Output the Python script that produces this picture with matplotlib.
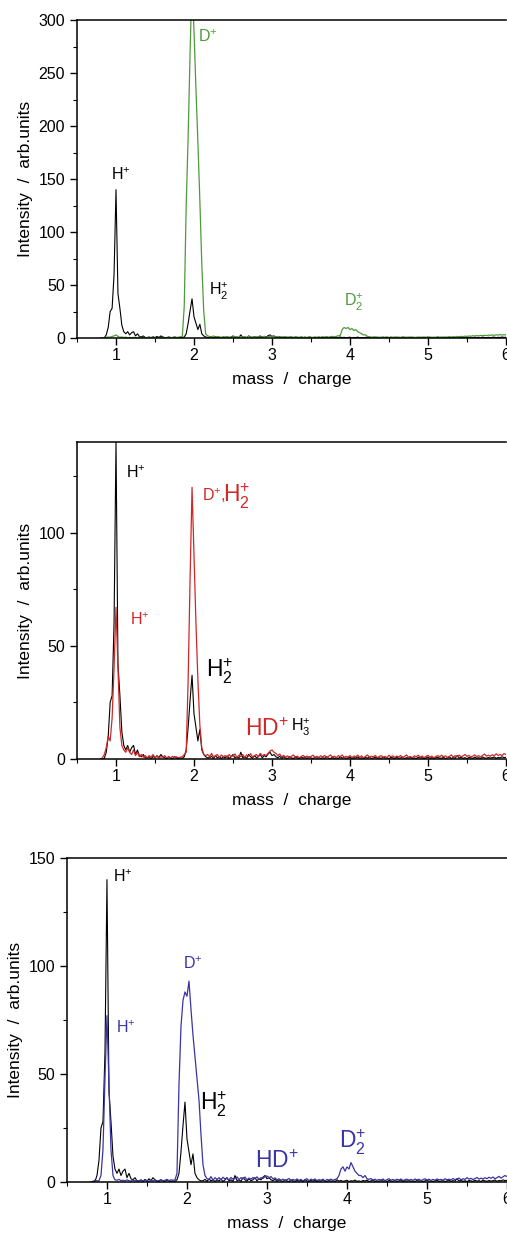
import numpy as np
import matplotlib
matplotlib.use('Agg')
import matplotlib.pyplot as plt
from matplotlib.ticker import MultipleLocator

plt.rcParams['font.family'] = ['Liberation Sans', 'DejaVu Sans']
plt.rcParams['mathtext.fontset'] = 'custom'
plt.rcParams['mathtext.rm'] = 'Liberation Sans'
plt.rcParams['mathtext.it'] = 'Liberation Sans:italic'
plt.rcParams['mathtext.bf'] = 'Liberation Sans:bold'

# %% DATA  (mass/charge sampled every 0.025 from 0.8 to 6.0, rows of 8 = 0.2 units)
mz = np.linspace(0.8, 6.0, 209)

# H2 plasma (black, same trace in every panel)
h2_black = [
    0, 0, 0.3, 3, 10, 25, 28, 60,
    140, 42, 28, 12, 6, 4, 6, 3,
    5, 6, 2, 4, 1.5, 1, 2, 0.5,
    0.5, 1, 0, 1.2, 0.4, 1.5, 0.6, 2,
    1, 0.5, 0.2, 1, 0.5, 0.1, 1, 0.5,
    0.2, 0.5, 0.3, 1, 4, 14, 26, 37,
    20, 14, 8, 13, 4, 2, 1, 0.5,
    0.6, 1.2, 0.2, 1.5, 0.5, 1, 0.2, 1,
    0.5, 1.4, 0.2, 1, 2, 0.5, 1, 0.3,
    3, 0.6, 1, 0.3, 2, 1, 0.4, 1.5,
    0.6, 1, 2, 0.5, 1.5, 1, 2.2, 3,
    1.5, 2, 1, 0.6, 1.2, 0.3, 1, 0.5,
    0.2, 1, 0.5, 0.2, 1, 0.5, 0.1, 0.9,
    0.4, 0.8, 0.2, 1, 0.5, 0.2, 0.7, 0.4,
    0.8, 0.2, 0.6, 0.3, 1, 0.4, 0.2, 0.8,
    0.3, 0.6, 0.2, 1, 0.4, 0.7, 0.3, 0.5,
    0.8, 0.2, 0.6, 0.4, 0.9, 0.3, 0.5, 0.2,
    0.7, 0.4, 0.9, 0.2, 0.5, 0.8, 0.3, 0.6,
    0.2, 0.9, 0.4, 0.6, 0.2, 0.7, 0.5, 0.3,
    0.8, 0.3, 0.5, 0.9, 0.2, 0.6, 0.4, 0.7,
    0.3, 0.5, 0.2, 0.8, 0.4, 0.6, 0.2, 0.5,
    0.9, 0.3, 0.6, 0.2, 0.5, 0.8, 0.3, 0.4,
    0.7, 0.2, 0.5, 0.9, 0.3, 0.6, 0.4, 1.5,
    0.4, 0.8, 0.3, 0.6, 0.2, 0.7, 0.5, 0.3,
    0.8, 0.4, 0.6, 0.2, 0.9, 0.5, 0.3, 0.7,
    0.4, 0.6, 0.9, 0.3, 0.7, 0.5, 1, 0.6,
    0.8]

# D2 plasma (green, top panel)
d2_green = [
    0, 0, 0.3, 0.5, 1, 0.8, 1.5, 2,
    3, 1.5, 0.8, 1, 0.5, 0.8, 0.4, 0.6,
    0.3, 0.7, 0.2, 0.5, 0.8, 0.3, 0.6, 0.2,
    0.5, 0.3, 0.8, 0.2, 0.6, 0.4, 0.7, 0.3,
    0.6, 0.2, 0.5, 0.8, 0.3, 0.6, 1, 0.5,
    0.8, 1, 1.5, 30, 125, 190, 270, 340,
    290, 235, 185, 130, 70, 25, 4, 2,
    1.5, 1, 2, 0.8, 1.5, 1, 0.6, 1.2,
    0.8, 1.5, 0.6, 1.2, 0.9, 1.6, 0.7, 1.1,
    1.4, 0.8, 1.2, 0.6, 1.5, 1, 0.7, 1.3,
    0.9, 1.4, 0.7, 1.1, 1.6, 0.8, 1.2, 1.5,
    2, 1.2, 0.9, 1.4, 0.7, 1.1, 0.8, 1.3,
    0.9, 0.6, 1.2, 0.8, 0.5, 1, 0.7, 1.1,
    0.6, 0.9, 0.5, 1.1, 0.8, 0.6, 1, 0.7,
    1.1, 0.8, 1.3, 0.9, 1.2, 0.8, 1.4, 1.5,
    1.2, 1.6, 2, 2.5, 8, 10, 9, 10,
    8, 9, 7, 8, 6, 5, 4, 3,
    3, 1.5, 1.2, 0.8, 1.1, 0.7, 1, 0.6,
    0.9, 0.5, 0.8, 1.1, 0.6, 0.9, 0.7, 1,
    0.6, 0.9, 0.5, 0.8, 1, 0.6, 0.9, 0.7,
    1, 0.6, 0.8, 0.5, 0.9, 0.7, 1.1, 0.6,
    0.8, 1, 0.6, 0.9, 0.7, 1.2, 0.8, 1,
    0.7, 1.1, 0.8, 1.2, 0.9, 1.3, 1, 1.5,
    1.2, 1.6, 1.3, 1.8, 1.5, 2, 1.7, 2.2,
    1.9, 2.3, 2, 2.5, 2.2, 2.6, 2.3, 2.8,
    2.5, 2.9, 2.6, 3, 2.8, 3.2, 2.9, 3.1,
    3]

# H2 + D2 mixture (red, middle panel)
mix_red = [
    0, 0.5, 2, 5, 10, 8, 18, 40,
    67, 40, 14, 6, 4, 3, 5, 3,
    2, 4, 1.5, 3, 1, 2, 0.8, 1.5,
    0.5, 1.5, 0.8, 2, 0.6, 1.2, 0.4, 1,
    0.8, 1.5, 0.5, 1, 0.4, 1.2, 0.6, 1,
    0.5, 0.8, 1, 2, 3, 35, 80, 120,
    90, 60, 35, 15, 5, 2, 1.5, 2,
    1, 2.5, 0.8, 1.5, 2, 0.6, 1.8, 1,
    1.5, 0.5, 2, 1, 1.4, 2.2, 0.8, 1.6,
    1, 2, 0.6, 1.8, 1.2, 2.4, 0.9, 1.5,
    2, 1, 2.5, 1.4, 2, 1.6, 2.5, 3.5,
    4, 3, 2.5, 1.5, 2.2, 1, 1.6, 0.8,
    1.4, 0.6, 1.2, 1.8, 0.7, 1.3, 0.5, 1.1,
    1.6, 0.8, 1.3, 0.5, 1.1, 1.7, 0.7, 1.2,
    0.6, 1.4, 0.9, 1.6, 0.5, 1.2, 1.8, 0.8,
    1.3, 0.6, 1.5, 1, 1.8, 0.7, 1.2, 0.9,
    1.5, 0.6, 1.3, 1, 1.7, 0.8, 1.4, 0.5,
    1.2, 1.8, 0.7, 1.3, 0.9, 1.6, 0.6, 1.1,
    1.5, 0.8, 1.2, 0.6, 1.7, 1, 1.4, 0.7,
    1.3, 0.9, 1.6, 0.5, 1.2, 1.8, 0.8, 1.1,
    0.6, 1.4, 1, 1.7, 0.8, 1.3, 0.6, 1.2,
    1.6, 0.8, 1.3, 0.5, 1.1, 1.5, 0.9, 1.7,
    1, 1.4, 0.7, 1.2, 1.8, 0.9, 1.5, 1.1,
    1.7, 1, 1.4, 2, 1.2, 1.6, 0.9, 1.3,
    1.8, 1.1, 1.5, 0.9, 1.6, 2.2, 1.3, 1.7,
    1.2, 1.9, 1.4, 2.3, 1.6, 2, 1.5, 2.4,
    2]

# H2 + D2 mixture (blue, bottom panel)
mix_blue = [
    0, 0.3, 0.8, 0.5, 0.6, 3, 15, 48,
    77, 45, 15, 3, 1, 0.8, 1.2, 0.6,
    0.8, 0.5, 1, 0.6, 0.4, 0.9, 0.5, 0.7,
    0.4, 0.8, 0.5, 1, 0.6, 0.3, 0.8, 0.5,
    0.9, 0.4, 0.7, 1, 0.5, 0.8, 1.2, 0.6,
    1, 0.8, 1, 4, 45, 72, 84, 88,
    86, 93, 80, 68, 58, 48, 38, 22,
    8, 3, 1.5, 1, 2.5, 0.8, 2, 1.2,
    2, 1, 2.2, 1.4, 1.8, 0.9, 2.1, 1.3,
    1.6, 2.4, 1.1, 2, 1.5, 2.3, 1, 1.8,
    1.3, 2.1, 1.5, 2.4, 1.2, 2, 1.6, 2.5,
    2.8, 2, 2.5, 1.4, 1.9, 1, 1.5, 0.8,
    1.3, 0.7, 1.1, 1.6, 0.6, 1.2, 0.8, 1.4,
    0.7, 1.2, 0.5, 1.1, 1.5, 0.6, 1.3, 0.9,
    1.4, 0.6, 1.1, 0.8, 1.3, 0.5, 1.2, 0.9,
    1.3, 0.8, 1.2, 1.5, 3, 6, 7, 5,
    7, 6, 9, 7, 5, 4, 3, 3,
    2, 3, 1.5, 1.2, 1.6, 0.9, 1.3, 0.7,
    1.2, 0.8, 1.4, 0.6, 1.1, 1.5, 0.8, 1.2,
    0.7, 1.3, 0.9, 1.4, 0.6, 1.1, 1.3, 0.8,
    1.2, 0.7, 1.4, 0.9, 1.3, 0.6, 1.1, 1.5,
    0.9, 1.3, 0.7, 1.2, 0.8, 1.4, 1, 1.2,
    0.8, 1.5, 1, 1.3, 0.9, 1.6, 1.1, 1.4,
    1.8, 1, 1.5, 1.2, 2, 1.3, 1.7, 1.1,
    1.6, 2.1, 1.3, 1.8, 1.4, 2, 1.5, 2.2,
    1.7, 2.3, 1.5, 2, 2.6, 1.8, 2.4, 3,
    2.5]

green = '#4f9a3c'
red = '#d02828'
blue = '#3a35a5'

small = 11.5
big = 16.5

# %% FIGURE
fig = plt.figure(figsize=(5.07, 12.36), dpi=100)
ax1 = fig.add_axes([0.1519, 0.7265, 0.846, 0.2573])
ax2 = fig.add_axes([0.1519, 0.3859, 0.846, 0.2565])
ax3 = fig.add_axes([0.1321, 0.0437, 0.8679, 0.2621])

ax1.plot(mz, h2_black, color='black', lw=0.8)
ax1.plot(mz, d2_green, color=green, lw=0.9)
ax1.set_ylim(0, 300)

ax2.plot(mz, h2_black, color='black', lw=0.8)
ax2.plot(mz, mix_red, color=red, lw=0.9)
ax2.set_ylim(0, 140)

ax3.plot(mz, h2_black, color='black', lw=0.8)
ax3.plot(mz, mix_blue, color=blue, lw=0.9)
ax3.set_ylim(0, 150)

for ax in (ax1, ax2, ax3):
    ax.set_xlim(0.5, 6.0)
    ax.xaxis.set_major_locator(MultipleLocator(1))
    ax.xaxis.set_minor_locator(MultipleLocator(0.5))
    ax.yaxis.set_major_locator(MultipleLocator(50))
    ax.yaxis.set_minor_locator(MultipleLocator(25))
    ax.spines['right'].set_visible(False)
    for s in ('left', 'bottom', 'top'):
        ax.spines[s].set_linewidth(1.1)
    ax.tick_params(which='major', direction='out', length=5, width=1, labelsize=11.5)
    ax.tick_params(which='minor', direction='out', length=3, width=0.8)
    ax.tick_params(axis='x', which='both', top=False, pad=2)
    ax.set_xlabel('mass  /  charge', fontsize=12.5, labelpad=7)
    ax.set_ylabel('Intensity  /  arb.units', fontsize=12.5, labelpad=4)

# annotations, top panel
ax1.text(0.93, 149, 'H$^{+}$', fontsize=small)
ax1.text(2.05, 279, 'D$^{+}$', fontsize=small, color=green)
ax1.text(2.19, 40, 'H$_{2}^{+}$', fontsize=small)
ax1.text(3.92, 30, 'D$_{2}^{+}$', fontsize=small, color=green)

# middle panel
ax2.text(1.13, 124, 'H$^{+}$', fontsize=small)
ax2.text(1.18, 59, 'H$^{+}$', fontsize=small, color=red)
ax2.text(2.10, 114, 'D$^{+}$,', fontsize=small, color=red)
ax2.text(2.37, 113.5, 'H$_{2}^{+}$', fontsize=big, color=red)
ax2.text(2.15, 36, 'H$_{2}^{+}$', fontsize=big)
ax2.text(2.65, 10, 'HD$^{+}$', fontsize=big, color=red)
ax2.text(3.25, 12, 'H$_{3}^{+}$', fontsize=small)

# bottom panel
ax3.text(1.08, 139, 'H$^{+}$', fontsize=small)
ax3.text(1.11, 69, 'H$^{+}$', fontsize=small, color=blue)
ax3.text(1.95, 98.6, 'D$^{+}$', fontsize=small, color=blue)
ax3.text(2.16, 33, 'H$_{2}^{+}$', fontsize=big)
ax3.text(2.85, 6.3, 'HD$^{+}$', fontsize=big, color=blue)
ax3.text(3.9, 15.6, 'D$_{2}^{+}$', fontsize=big, color=blue)

plt.savefig('out.png', dpi=100)
